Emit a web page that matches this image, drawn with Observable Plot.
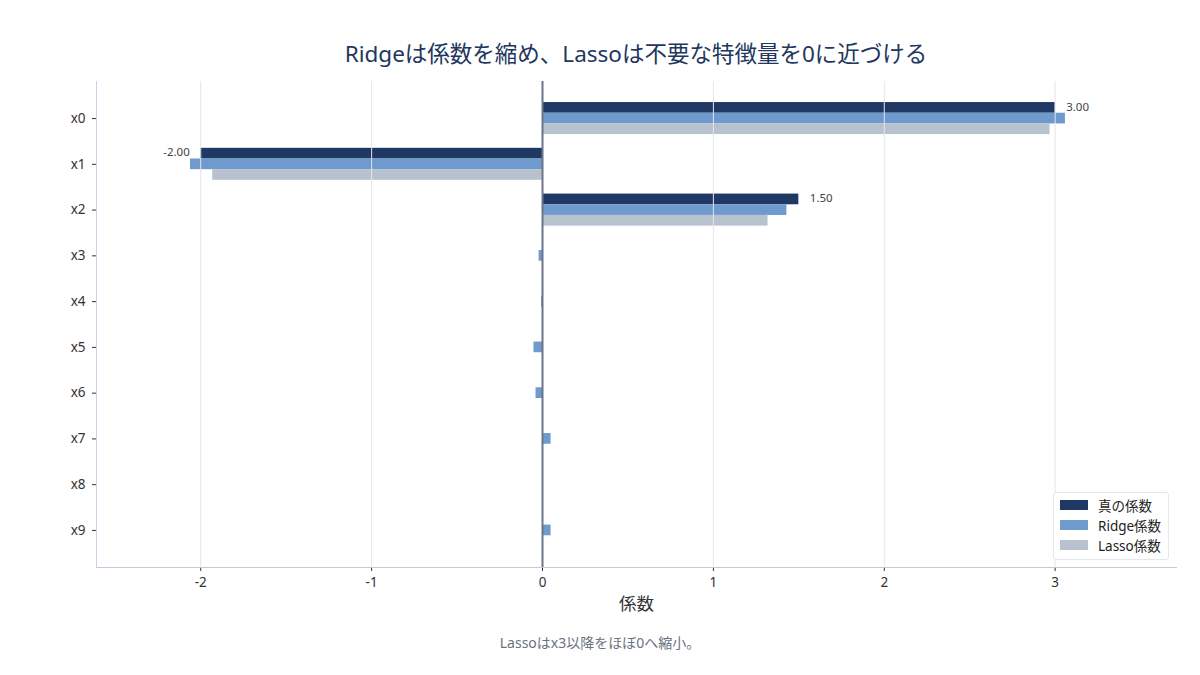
<!DOCTYPE html>
<html>
<head>
<meta charset="utf-8">
<script src="https://cdn.jsdelivr.net/npm/d3@7"></script>
<script src="https://cdn.jsdelivr.net/npm/@observablehq/plot@0.6"></script>
<style>
  body { margin: 0; background: #fff; font-family: "Noto Sans", "Noto Sans CJK JP", sans-serif; }
  #wrap { position: relative; width: 1200px; height: 675px; }
  #title { position: absolute; left: 96px; width: 1080px; top: 36px; text-align: center; font-size: 22.5px; color: #22365e; }
  #chart { position: absolute; left: 0; top: 70px; }
  #caption { position: absolute; left: 0; width: 1200px; top: 632px; text-align: center; font-size: 14px; color: #6b7280; }
  #legend { position: absolute; left: 1053px; top: 492px; width: 114px; height: 66px; border: 1px solid #e3e6ec; border-radius: 3px; background: #fff; font-size: 13.5px; color: #222; }
  .li { position: absolute; left: 6px; display: flex; align-items: center; }
  .sw { width: 28px; height: 10px; margin-right: 10px; }
</style>
</head>
<body>
<div id="wrap">
  <div id="title">Ridgeは係数を縮め、Lassoは不要な特徴量を0に近づける</div>
  <div id="chart"></div>
  <div id="legend"></div>
  <div id="caption">Lassoはx3以降をほぼ0へ縮小。</div>
</div>
<script>
const features = ["x0","x1","x2","x3","x4","x5","x6","x7","x8","x9"];
const trueCoef  = [3.0, -2.0, 1.5, 0, 0, 0, 0, 0, 0, 0];
const ridgeCoef = [3.06, -2.06, 1.43, -0.02, -0.005, -0.05, -0.038, 0.05, 0.002, 0.05];
const lassoCoef = [2.97, -1.93, 1.32, 0, 0, 0, 0, 0, 0, 0];
const seriesNames = ["真の係数", "Ridge係数", "Lasso係数"];
const seriesColors = ["#203864", "#6f9acd", "#b8c2cf"];
const xTicks = [-2, -1, 0, 1, 2, 3];

const series = [trueCoef, ridgeCoef, lassoCoef];
const rows = series.map(vals => features.map((f, i) => ({feature: f, value: vals[i]})));
const labels = features.map((f, i) => ({feature: f, value: trueCoef[i]})).filter(d => d.value !== 0);

const bw = 32;
const third = bw / 3;
const barMarks = rows.map((data, k) => Plot.barX(data, {
  x: "value", y: "feature", fill: seriesColors[k],
  insetTop: k * third, insetBottom: (2 - k) * third
}));
const fontStack = "'Noto Sans', 'Noto Sans CJK JP', sans-serif";

const plot = Plot.plot({
  width: 1200,
  height: 550,
  marginTop: 11,
  marginBottom: 53,
  marginLeft: 96,
  marginRight: 24,
  style: { fontFamily: fontStack, fontSize: "13.5px", color: "#333" },
  x: { domain: [-2.61, 3.71], ticks: xTicks, tickFormat: d => String(d), label: null },
  y: { domain: features, paddingInner: 0.3, paddingOuter: 0.46, round: false, label: null },
  marks: [
    ...barMarks,
    Plot.gridX(xTicks, { stroke: "#e4e5ee", strokeOpacity: 1 }),
    Plot.ruleX([0], { stroke: "#6b7489", strokeWidth: 2 }),
    Plot.axisX({ ticks: xTicks, tickSize: 4, tickPadding: 6, tickFormat: d => String(d), stroke: "#333", fontSize: 13.5, label: null }),
    Plot.axisY({ tickSize: 4, tickPadding: 7, stroke: "#333", fontSize: 13.5, label: null }),
    Plot.frame({ anchor: "bottom", stroke: "#c2cad8" }),
    Plot.frame({ anchor: "left", stroke: "#c9d3e3" }),
    Plot.text(labels.filter(d => d.value >= 0), {
      x: "value", y: "feature", text: d => d.value.toFixed(2),
      dy: -third - 1, dx: 11, textAnchor: "start",
      fill: "#444", fontSize: 11.5
    }),
    Plot.text(labels.filter(d => d.value < 0), {
      x: "value", y: "feature", text: d => d.value.toFixed(2),
      dy: -third - 1, dx: -11, textAnchor: "end",
      fill: "#444", fontSize: 11.5
    }),
    Plot.text(["係数"], { frameAnchor: "bottom", dy: 42, fontSize: 17.5, fill: "#333" })
  ]
});
document.getElementById("chart").appendChild(plot);

const legend = document.getElementById("legend");
seriesNames.forEach((n, k) => {
  const d = document.createElement("div");
  d.className = "li";
  d.style.top = (2 + k * 20) + "px";
  d.innerHTML = `<span class="sw" style="background:${seriesColors[k]}"></span><span>${n}</span>`;
  legend.appendChild(d);
});
</script>
</body>
</html>
